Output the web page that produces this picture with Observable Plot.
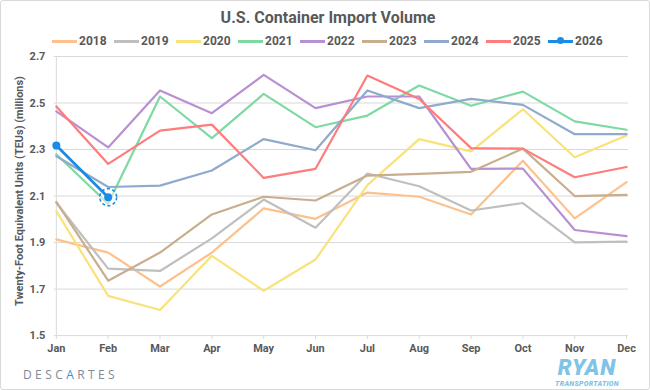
<!DOCTYPE html>
<html>
<head>
<meta charset="utf-8">
<script src="https://cdn.jsdelivr.net/npm/d3@7"></script>
<script src="https://cdn.jsdelivr.net/npm/@observablehq/plot@0.6"></script>
<style>
  html, body { margin: 0; padding: 0; background: #fff; }
  #frame { position: relative; width: 648px; height: 388px; border: 1px solid #d9d9d9; border-radius: 3px; overflow: hidden; font-family: Roboto, "Open Sans", sans-serif; color: #595959; }
  #title { position: absolute; top: 7px; left: 0; width: 654px; text-align: center; font-size: 16px; font-weight: bold; color: #595959; }
  #legend { position: absolute; top: 32px; left: 51px; height: 16px; display: flex; }
  .item { display: flex; align-items: center; width: 62px; font-size: 12px; font-weight: bold; }
  .sw { position: relative; width: 25px; height: 3px; margin-right: 2px; }
  .sw .dot { position: absolute; left: 9px; top: -3px; width: 7px; height: 7px; border-radius: 50%; }
  #chart { position: absolute; top: 50px; left: 0; }
  #desc { position: absolute; left: 22px; top: 365px; font-size: 12px; letter-spacing: 3.4px; color: #7f8a96; font-family: "Open Sans", sans-serif; }
  #desc .a { color: #3b8fd6; }
  #ryanBig { position: absolute; left: 548px; top: 357px; width: 76px; height: 20px; text-align: center; color: #7fc3e8; font-style: italic; font-weight: 900; font-family: Roboto, sans-serif; font-size: 22px; line-height: 20px; letter-spacing: 1px; }
  #ryanSmall { position: absolute; left: 548px; top: 380px; width: 76px; height: 7px; text-align: center; color: #7fc3e8; font-style: italic; font-weight: 900; font-family: Roboto, sans-serif; font-size: 7px; line-height: 7px; letter-spacing: 0.3px; }
</style>
</head>
<body>
<div id="frame">
  <div id="title">U.S. Container Import Volume</div>
  <div id="legend"></div>
  <div id="chart"></div>
  <div id="desc">DESC<span class="a">A</span>RTES</div>
  <div id="ryanBig">RYAN</div>
  <div id="ryanSmall">TRANSPORTATION</div>
</div>
<script>
const months = ["Jan","Feb","Mar","Apr","May","Jun","Jul","Aug","Sep","Oct","Nov","Dec"];
const yTicks = [1.5, 1.7, 1.9, 2.1, 2.3, 2.5, 2.7];
const years = ["2018","2019","2020","2021","2022","2023","2024","2025","2026"];
const colors = ["#FDC18D","#BFBFBF","#F9E27A","#7ED9A2","#B98FD4","#C9AE8E","#8FAACC","#FF7C7C","#1A8CE6"];

const v2018 = [1.914, 1.857, 1.711, 1.857, 2.047, 2.002, 2.115, 2.097, 2.021, 2.252, 2.004, 2.160];
const v2019 = [2.071, 1.788, 1.778, 1.918, 2.085, 1.964, 2.197, 2.142, 2.038, 2.070, 1.901, 1.904];
const v2020 = [2.035, 1.671, 1.610, 1.843, 1.693, 1.827, 2.147, 2.345, 2.292, 2.473, 2.267, 2.360];
const v2021 = [2.280, 2.067, 2.528, 2.349, 2.539, 2.396, 2.446, 2.575, 2.488, 2.549, 2.421, 2.385];
const v2022 = [2.464, 2.309, 2.554, 2.456, 2.621, 2.478, 2.528, 2.528, 2.217, 2.218, 1.954, 1.928];
const v2023 = [2.075, 1.736, 1.857, 2.021, 2.097, 2.081, 2.188, 2.195, 2.204, 2.304, 2.100, 2.105];
const v2024 = [2.271, 2.139, 2.145, 2.210, 2.345, 2.297, 2.554, 2.478, 2.518, 2.492, 2.366, 2.366];
const v2025 = [2.485, 2.238, 2.381, 2.407, 2.178, 2.217, 2.618, 2.517, 2.306, 2.304, 2.181, 2.225];
const v2026 = [2.317, 2.095];

const series = [v2018, v2019, v2020, v2021, v2022, v2023, v2024, v2025, v2026];
const data = [];
series.forEach((vals, i) => vals.forEach((v, j) => data.push({year: years[i], month: months[j], value: v})));
const d2026 = data.filter(d => d.year === "2026");
const last2026 = d2026[d2026.length - 1];

// legend
const leg = document.getElementById("legend");
years.forEach((y, i) => {
  const it = document.createElement("div");
  it.className = "item";
  const sw = document.createElement("div");
  sw.className = "sw";
  sw.style.background = colors[i];
  if (y === "2026") {
    const dot = document.createElement("div");
    dot.className = "dot";
    dot.style.background = colors[i];
    sw.appendChild(dot);
  }
  it.appendChild(sw);
  const t = document.createElement("span");
  t.textContent = y;
  it.appendChild(t);
  leg.appendChild(it);
});

const chart = Plot.plot({
  width: 650,
  height: 340,
  marginTop: 5,
  marginBottom: 55,
  marginLeft: 53,
  marginRight: 21,
  style: {fontFamily: "Roboto, sans-serif", fontSize: "11px", fontWeight: "bold", color: "#595959", background: "transparent", overflow: "visible"},
  x: {type: "point", domain: months, padding: 0, label: null},
  y: {domain: [1.5, 2.7], ticks: yTicks, label: null},
  color: {domain: years, range: colors},
  marks: [
    Plot.gridY(yTicks, {stroke: "#d9d9d9", strokeOpacity: 1, strokeWidth: 1}),
    Plot.ruleX([months[0]], {stroke: "#d9d9d9"}),
    Plot.axisY({ticks: yTicks, tickSize: 0, tickPadding: 9, tickFormat: d => d.toFixed(1), label: null, fill: "#595959"}),
    Plot.axisX({tickSize: 4, tickPadding: 5, stroke: "#d9d9d9", label: null, fill: "#595959"}),
    Plot.text(["Twenty-Foot Equivalent Units (TEUs) (millions)"], {
      frameAnchor: "left", textAnchor: "middle", dx: -35, dy: -5, rotate: -90, fill: "#595959", fontSize: 11, fontWeight: "bold"
    }),
    Plot.line(data.filter(d => d.year !== "2026"), {x: "month", y: "value", z: "year", stroke: "year", strokeWidth: 2.2, curve: "linear"}),
    Plot.dot([last2026], {x: "month", y: "value", r: 8.5, fill: "white", fillOpacity: 0.5, stroke: "#1A8CE6", strokeWidth: 1.6, strokeDasharray: "3,2.5"}),
    Plot.line(d2026, {x: "month", y: "value", stroke: "#1A8CE6", strokeWidth: 2.8}),
    Plot.dot(d2026, {x: "month", y: "value", r: 4, fill: "#1A8CE6"})
  ]
});
document.getElementById("chart").appendChild(chart);
</script>
</body>
</html>
